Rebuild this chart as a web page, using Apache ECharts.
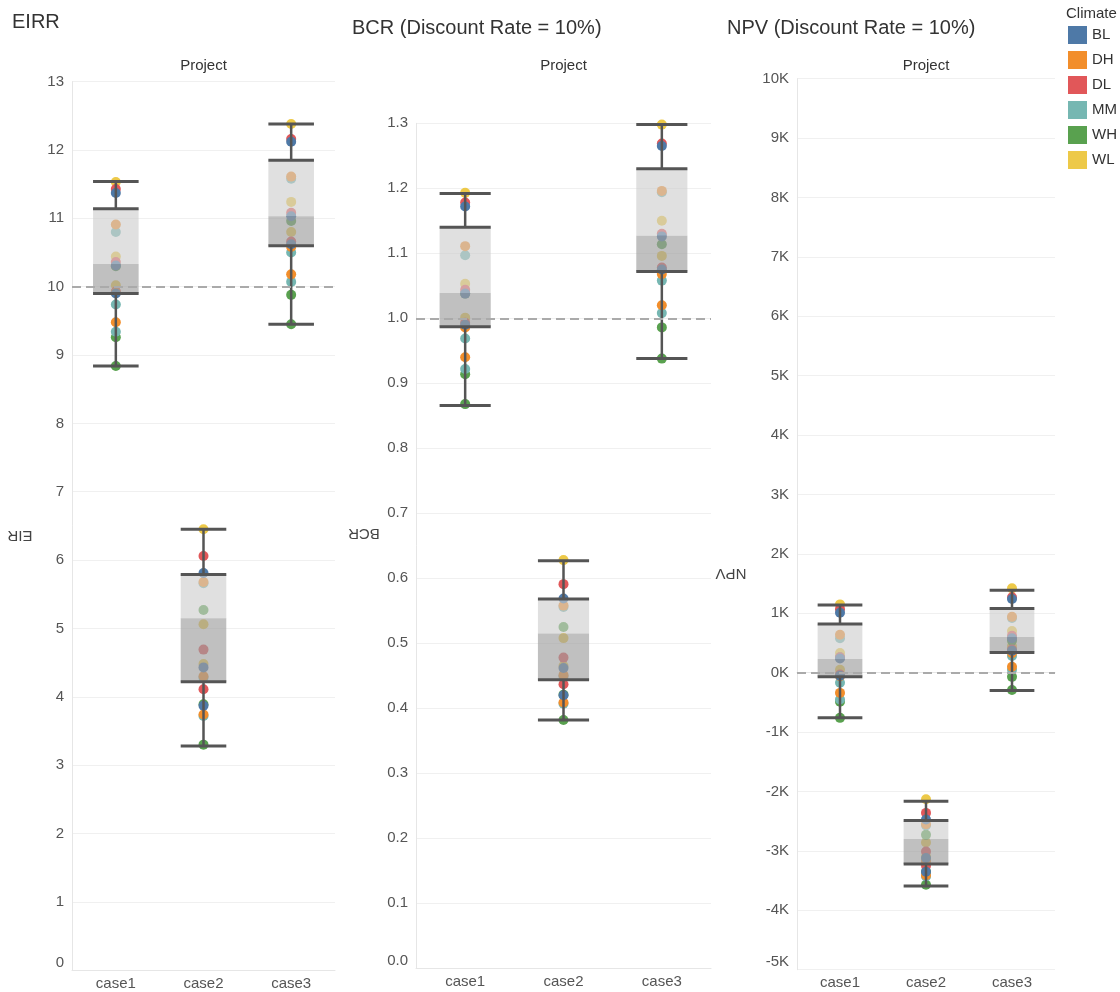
<!DOCTYPE html>
<html><head><meta charset="utf-8">
<script src="https://cdn.jsdelivr.net/npm/echarts@6/dist/echarts.min.js"></script>
<style>html,body{margin:0;padding:0;background:#fff}#c{width:1120px;height:992px}</style>
</head><body><div id="c"></div>
<script>
// ---------- data ----------
const cases = ['case1', 'case2', 'case3'];
const climates = ['BL', 'DH', 'DL', 'MM', 'WH', 'WL'];

// EIRR (%), per case: [v1, v2, v3]
const eirr_BL = [[11.37, 10.31, 9.90], [5.81, 4.43, 3.87], [12.12, 11.03, 10.62]];
const eirr_DH = [[10.91, 9.91, 9.48], [5.68, 4.30, 3.74], [11.61, 10.58, 10.18]];
const eirr_DL = [[11.43, 10.36, 9.93], [6.06, 4.69, 4.11], [12.16, 11.08, 10.66]];
const eirr_MM = [[10.80, 9.74, 9.34], [5.66, 4.28, 3.72], [11.58, 10.50, 10.07]];
const eirr_WH = [[10.30, 9.26, 8.84], [5.27, 3.89, 3.30], [10.96, 9.88, 9.45]];
const eirr_WL = [[11.53, 10.44, 10.02], [6.45, 5.06, 4.48], [12.38, 11.24, 10.80]];
// box stats per case: [min, q1, median, q3, max]
const eirrBox = [[8.84, 9.90, 10.33, 11.14, 11.54], [3.28, 4.22, 5.15, 5.79, 6.45], [9.45, 10.60, 11.03, 11.85, 12.38]];

// BCR
const bcr_BL = [[1.172, 1.038, 0.990], [0.569, 0.462, 0.420], [1.265, 1.126, 1.075]];
const bcr_DH = [[1.111, 0.986, 0.940], [0.558, 0.451, 0.409], [1.196, 1.068, 1.020]];
const bcr_DL = [[1.178, 1.044, 0.993], [0.591, 0.478, 0.437], [1.269, 1.130, 1.078]];
const bcr_MM = [[1.097, 0.969, 0.922], [0.556, 0.449, 0.407], [1.194, 1.058, 1.008]];
const bcr_WH = [[1.038, 0.914, 0.868], [0.525, 0.421, 0.382], [1.114, 0.986, 0.938]];
const bcr_WL = [[1.193, 1.053, 1.001], [0.628, 0.508, 0.465], [1.298, 1.150, 1.096]];
const bcrBox = [[0.866, 0.987, 1.039, 1.140, 1.192], [0.382, 0.444, 0.515, 0.568, 0.627], [0.938, 1.072, 1.127, 1.230, 1.298]];

// NPV
const npv_BL = [[1010, 240, -50], [-2470, -3120, -3350], [1240, 580, 370]];
const npv_DH = [[640, -60, -340], [-2550, -3170, -3410], [940, 330, 100]];
const npv_DL = [[1070, 260, -30], [-2360, -3010, -3250], [1270, 620, 390]];
const npv_MM = [[580, -170, -450], [-2570, -3190, -3430], [920, 280, 50]];
const npv_WH = [[260, -490, -760], [-2730, -3350, -3570], [540, -70, -290]];
const npv_WL = [[1150, 330, 50], [-2130, -2860, -3100], [1420, 700, 450]];
const npvBox = [[-760, -70, 230, 820, 1140], [-3590, -3220, -2800, -2490, -2165], [-300, 340, 600, 1080, 1390]];

const refLines = [10, 1.0, 0];
const panelTitles = ['EIRR', 'BCR (Discount Rate = 10%)', 'NPV (Discount Rate = 10%)'];
const axisNames = ['EIRR', 'BCR', 'NPV'];

// ---------- styles ----------
const palette = { BL: '#4e79a7', DH: '#f28e2b', DL: '#e15759', MM: '#76b7b2', WH: '#59a14f', WL: '#edc948' };
const FONT = "'Liberation Sans', Arial, sans-serif";
const drawOrder = ['WL', 'WH', 'MM', 'DL', 'DH', 'BL'];

const panelData = [
  { BL: eirr_BL, DH: eirr_DH, DL: eirr_DL, MM: eirr_MM, WH: eirr_WH, WL: eirr_WL, box: eirrBox },
  { BL: bcr_BL, DH: bcr_DH, DL: bcr_DL, MM: bcr_MM, WH: bcr_WH, WL: bcr_WL, box: bcrBox },
  { BL: npv_BL, DH: npv_DH, DL: npv_DL, MM: npv_MM, WH: npv_WH, WL: npv_WL, box: npvBox }
];

const grids = [
  { left: 72, width: 263, top: 81.6, height: 888.6 },
  { left: 416, width: 295, top: 123.3, height: 845 },
  { left: 797, width: 258, top: 78.7, height: 891 }
];
const yCfg = [
  { min: 0, max: 13, interval: 1, fmt: v => String(Math.round(v)) },
  { min: 0, max: 1.3, interval: 0.1, fmt: v => v.toFixed(1) },
  { min: -5000, max: 10000, interval: 1000, fmt: v => Math.round(v / 1000) + 'K' }
];

function renderBox(params, api) {
  const x = api.value(0);
  const pMin = api.coord([x, api.value(1)]);
  const pQ1 = api.coord([x, api.value(2)]);
  const pMed = api.coord([x, api.value(3)]);
  const pQ3 = api.coord([x, api.value(4)]);
  const pMax = api.coord([x, api.value(5)]);
  const bw = api.size([1, 0])[0] * 0.52;
  const cx = pMin[0], hw = bw / 2;
  const ls = { stroke: '#555', lineWidth: 3 };
  const ws = { stroke: '#555', lineWidth: 2.5 };
  return {
    type: 'group', children: [
      { type: 'rect', shape: { x: cx - hw, y: pQ3[1], width: bw, height: pMed[1] - pQ3[1] }, style: { fill: 'rgba(205,205,205,0.62)' } },
      { type: 'rect', shape: { x: cx - hw, y: pMed[1], width: bw, height: pQ1[1] - pMed[1] }, style: { fill: 'rgba(160,160,160,0.66)' } },
      { type: 'line', shape: { x1: cx, y1: pMax[1], x2: cx, y2: pQ3[1] }, style: ws },
      { type: 'line', shape: { x1: cx, y1: pQ1[1], x2: cx, y2: pMin[1] }, style: ws },
      { type: 'line', shape: { x1: cx - hw, y1: pMax[1], x2: cx + hw, y2: pMax[1] }, style: ls },
      { type: 'line', shape: { x1: cx - hw, y1: pQ3[1], x2: cx + hw, y2: pQ3[1] }, style: ls },
      { type: 'line', shape: { x1: cx - hw, y1: pQ1[1], x2: cx + hw, y2: pQ1[1] }, style: ls },
      { type: 'line', shape: { x1: cx - hw, y1: pMin[1], x2: cx + hw, y2: pMin[1] }, style: ls }
    ]
  };
}

const series = [];
const xAxes = [], yAxes = [];
panelData.forEach((pd, p) => {
  xAxes.push({
    type: 'category', gridIndex: p, data: cases,
    axisLine: { show: true, lineStyle: { color: '#e6e6e6' } },
    axisTick: { show: false },
    axisLabel: { fontSize: 15, color: '#555', margin: 6, fontFamily: FONT },
    splitLine: { show: false }
  });
  yAxes.push({
    type: 'value', gridIndex: p, min: yCfg[p].min, max: yCfg[p].max, interval: yCfg[p].interval,
    axisLine: { show: true, lineStyle: { color: '#e6e6e6' } },
    axisTick: { show: false },
    axisLabel: { fontSize: 15, color: '#555', margin: 8, fontFamily: FONT, formatter: yCfg[p].fmt, verticalAlignMinLabel: 'bottom' },
    splitLine: { show: true, lineStyle: { color: '#f0f0f0', width: 1 } }
  });
  drawOrder.forEach(c => {
    const data = [];
    pd[c].forEach((vals, i) => vals.forEach(v => data.push([i, v])));
    series.push({
      type: 'scatter', name: c, xAxisIndex: p, yAxisIndex: p, data,
      symbolSize: 10, z: 2,
      itemStyle: { color: palette[c], opacity: 1 },
      emphasis: { disabled: true }
    });
  });
  series.push({
    type: 'custom', xAxisIndex: p, yAxisIndex: p, z: 3, renderItem: renderBox,
    encode: { x: 0, y: [1, 2, 3, 4, 5] },
    data: pd.box.map((b, i) => [i].concat(b)),
    silent: true
  });
  series.push({
    type: 'line', xAxisIndex: p, yAxisIndex: p, data: [], z: 4,
    markLine: {
      silent: true, symbol: 'none', label: { show: false },
      lineStyle: { color: '#aaa', width: 2, type: [9, 5] },
      data: [{ yAxis: refLines[p] }]
    }
  });
});

const graphics = [];
const titleY = [22, 28, 28];
const titleX = [12, 352, 727];
panelTitles.forEach((t, p) => {
  graphics.push({ type: 'text', x: titleX[p], y: titleY[p], style: { text: t, fontSize: 20, fontFamily: FONT, fill: '#333', align: 'left', verticalAlign: 'middle' } });
  graphics.push({ type: 'text', x: grids[p].left + grids[p].width / 2, y: 66, style: { text: 'Project', fontSize: 15, fontFamily: FONT, fill: '#333', align: 'center', verticalAlign: 'middle' } });
});
const nameX = [20, 364, 731], nameY = [535, 533, 573], nameW = [28, 40, 40];
axisNames.forEach((t, p) => {
  graphics.push({ type: 'text', x: nameX[p], y: nameY[p], rotation: Math.PI,
    style: { text: t, fontSize: 15, fontFamily: FONT, fill: '#444', align: 'center', verticalAlign: 'middle', width: nameW[p], overflow: 'truncate', ellipsis: '' } });
});
graphics.push({ type: 'text', x: 1066, y: 14, style: { text: 'Climate', fontSize: 15, fontFamily: FONT, fill: '#333', align: 'left', verticalAlign: 'middle' } });

const option = {
  animation: false,
  backgroundColor: '#fff',
  grid: grids.map(g => Object.assign({ containLabel: false }, g)),
  xAxis: xAxes,
  yAxis: yAxes,
  legend: {
    orient: 'vertical', left: 1068, top: 26, itemWidth: 19, itemHeight: 18, itemGap: 7,
    icon: 'rect', padding: 0, selectedMode: false,
    textStyle: { fontSize: 15, color: '#333', fontFamily: FONT },
    itemStyle: { opacity: 1 },
    data: climates
  },
  graphic: graphics,
  series
};
const chart = echarts.init(document.getElementById('c'), null, { renderer: 'canvas' });
chart.setOption(option);
</script></body></html>
